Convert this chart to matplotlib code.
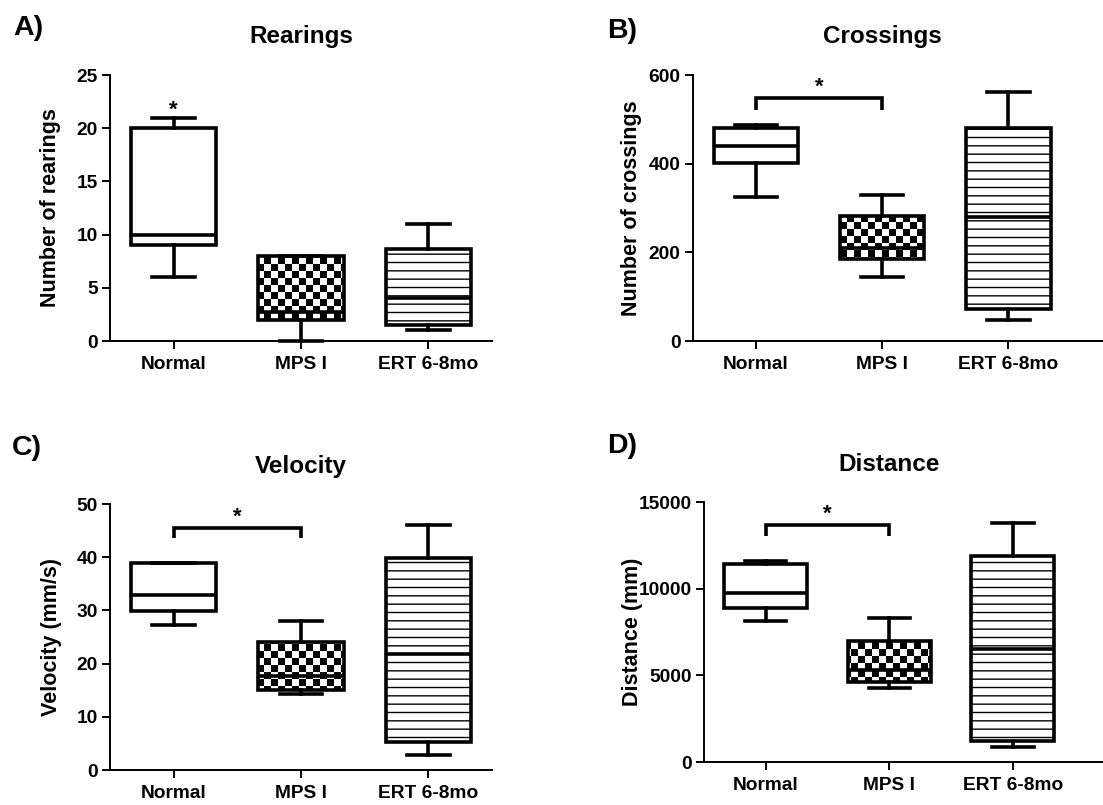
import numpy as np
import matplotlib
matplotlib.use("Agg")
import matplotlib.pyplot as plt
import matplotlib.transforms as mtransforms

plt.rcParams['font.family'] = ['Liberation Sans', 'DejaVu Sans']
plt.rcParams['font.weight'] = 'bold'
plt.rcParams['axes.labelweight'] = 'bold'
plt.rcParams['hatch.linewidth'] = 1.0
plt.rcParams['hatch.color'] = 'black'

categories = ['Normal', 'MPS I', 'ERT 6-8mo']

# Rearings
rear_whislo = [6, 0, 1]
rear_q1 = [9, 2, 1.5]
rear_med = [10, 2.7, 4]
rear_q3 = [20, 8, 8.6]
rear_whishi = [21, 8, 11]

# Crossings
cross_whislo = [325, 144, 47]
cross_q1 = [401, 185, 72]
cross_med = [440, 210, 280]
cross_q3 = [480, 283, 480]
cross_whishi = [487, 329, 561]

# Velocity
vel_whislo = [27.3, 14.3, 2.9]
vel_q1 = [29.8, 15.1, 5.3]
vel_med = [32.9, 17.6, 21.8]
vel_q3 = [38.9, 24.1, 39.8]
vel_whishi = [39.0, 28.0, 46.0]

# Distance
dist_whislo = [8140, 4260, 850]
dist_q1 = [8890, 4610, 1200]
dist_med = [9760, 5300, 6500]
dist_q3 = [11430, 6980, 11900]
dist_whishi = [11610, 8310, 13800]

W, H = 1103, 805
fig = plt.figure(figsize=(W / 100, H / 100), dpi=100)


def px_axes(left, right, top, bottom):
    return fig.add_axes([left / W, 1 - bottom / H, (right - left) / W, (bottom - top) / H])


def draw_panel(ax, whislo, q1, med, q3, whishi, ylim, yticks, ylabel, xmax,
               title, title_y, ylab_x, letter, letter_xy, px_box):
    stats = []
    for i in range(len(categories)):
        stats.append(dict(whislo=whislo[i], q1=q1[i], med=med[i], q3=q3[i],
                          whishi=whishi[i], label=categories[i], fliers=[]))
    lw = 2.6
    bp = ax.bxp(stats, positions=range(len(categories)), widths=0.67,
                patch_artist=True, showfliers=False,
                boxprops=dict(linewidth=lw, edgecolor='black', facecolor='white'),
                whiskerprops=dict(linewidth=lw, color='black'),
                capprops=dict(linewidth=lw, color='black'),
                medianprops=dict(linewidth=lw, color='black'),
                manage_ticks=False)
    for art in bp['boxes'] + bp['whiskers'] + bp['caps'] + bp['medians']:
        art.set_clip_on(False)
        art.set_zorder(3)
    # checkerboard fill for MPS I (pattern drawn in figure pixels, clipped to the box)
    box_mps = bp['boxes'][1]
    box_mps.set_facecolor('none')
    sq = 7
    left, right, top, bottom = px_box
    nx = (right - left) // sq + 1
    ny = (bottom - top) // sq + 1
    yy, xx = np.indices((ny, nx))
    checker = ((xx + yy) % 2).astype(float)
    x0 = left / W
    x1 = (left + nx * sq) / W
    y1 = 1 - top / H
    y0 = 1 - (top + ny * sq) / H
    im = ax.imshow(checker, cmap='gray', vmin=0, vmax=1, interpolation='nearest',
                   extent=(x0, x1, y0, y1), transform=fig.transFigure,
                   aspect='auto', zorder=2)
    im.set_clip_path(box_mps)
    # horizontal lines hatch for ERT
    bp['boxes'][2].set_hatch('--')

    ax.set_xlim(-0.5, xmax)
    ax.set_ylim(*ylim)
    ax.set_yticks(yticks)
    ax.set_xticks(range(len(categories)))
    ax.set_xticklabels(categories, fontsize=13.8, fontweight='bold')
    ax.tick_params(axis='y', labelsize=13.8, length=6, width=1.4, direction='out', pad=3)
    ax.tick_params(axis='x', length=6, width=1.4, direction='out', pad=5)
    for lab in ax.get_yticklabels():
        lab.set_fontweight('bold')
    ax.spines['top'].set_visible(False)
    ax.spines['right'].set_visible(False)
    ax.spines['left'].set_linewidth(1.4)
    ax.spines['bottom'].set_linewidth(1.4)
    ax.set_ylabel(ylabel, fontsize=15.5, fontweight='bold')
    ax.yaxis.set_label_coords(ylab_x, 0.5)
    trans = mtransforms.blended_transform_factory(ax.transData, ax.transAxes)
    ax.text(1, title_y, title, transform=trans, ha='center', va='baseline',
            fontsize=17.5, fontweight='bold')
    fig.text(letter_xy[0] / W, 1 - letter_xy[1] / H, letter, ha='left', va='baseline',
             fontsize=20.5, fontweight='bold')


def bracket(ax, x0, x1, ybar, yleg, ystar):
    ax.plot([x0, x0, x1, x1], [yleg, ybar, ybar, yleg], color='black', lw=2.6,
            solid_capstyle='butt', solid_joinstyle='miter', clip_on=False, zorder=4)
    ax.text((x0 + x1) / 2, ystar, '*', ha='center', va='center', fontsize=16,
            fontweight='bold', clip_on=False)


axA = px_axes(110, 492, 75, 341)
draw_panel(axA, rear_whislo, rear_q1, rear_med, rear_q3, rear_whishi, (0, 25),
           [0, 5, 10, 15, 20, 25], 'Number of rearings', 2.5, 'Rearings', 1.12,
           -0.128, 'A)', (13, 35), (110, 492, 75, 341))
axA.text(0, 21.7, '*', ha='center', va='center', fontsize=16, fontweight='bold')

axB = px_axes(693, 1103, 75, 341)
draw_panel(axB, cross_whislo, cross_q1, cross_med, cross_q3, cross_whishi, (0, 600),
           [0, 200, 400, 600], 'Number of crossings', 2.75, 'Crossings', 1.12,
           -0.124, 'B)', (607, 38), (693, 1103, 75, 341))
bracket(axB, 0, 1, 548, 521, 572)

axC = px_axes(110, 492, 504, 770)
draw_panel(axC, vel_whislo, vel_q1, vel_med, vel_q3, vel_whishi, (0, 50),
           [0, 10, 20, 30, 40, 50], 'Velocity (mm/s)', 2.5, 'Velocity', 1.117,
           -0.126, 'C)', (12, 455), (110, 492, 504, 770))
bracket(axC, 0, 1, 45.5, 43.6, 47.6)

axD = px_axes(704, 1103, 502, 762)
draw_panel(axD, dist_whislo, dist_q1, dist_med, dist_q3, dist_whishi, (0, 15000),
           [0, 5000, 10000, 15000], 'Distance (mm)', 2.73, 'Distance', 1.119,
           -0.153, 'D)', (607, 453), (704, 1103, 502, 762))
bracket(axD, 0, 1, 13700, 13050, 14300)

fig.savefig('out.png', dpi=100)
